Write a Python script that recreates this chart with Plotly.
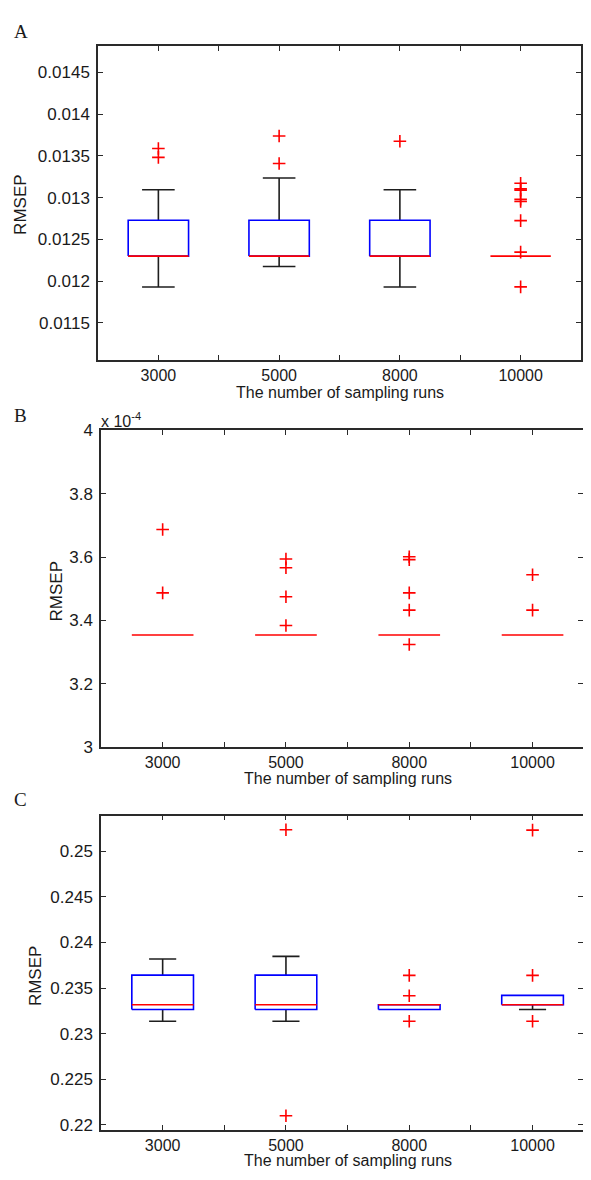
import plotly.graph_objects as go

# ---------------- data ----------------
categories = ["3000", "5000", "8000", "10000"]
positions = [1, 2, 3, 4]

# Panel A
a_q1 = [0.01230, 0.01230, 0.01230, 0.01230]
a_med = [0.01230, 0.01230, 0.01230, 0.01230]
a_q3 = [0.01273, 0.01273, 0.01273, 0.01230]
a_lo = [0.01193, 0.012175, 0.01193, None]
a_hi = [0.013094, 0.013235, 0.013094, None]
a_out = [
    [0.013588, 0.013482],
    [0.013738, 0.013408],
    [0.013675],
    [0.013173, 0.013105, 0.013090, 0.012980, 0.012955, 0.012725, 0.012348, 0.011932],
]

# Panel B
b_q1 = [3.3535e-4, 3.3535e-4, 3.3535e-4, 3.3535e-4]
b_med = [3.3535e-4, 3.3535e-4, 3.3535e-4, 3.3535e-4]
b_q3 = [3.3535e-4, 3.3535e-4, 3.3535e-4, 3.3535e-4]
b_lo = [None, None, None, None]
b_hi = [None, None, None, None]
b_out = [
    [3.6868e-4, 3.4868e-4],
    [3.5938e-4, 3.5659e-4, 3.4744e-4, 3.3836e-4],
    [3.6010e-4, 3.5917e-4, 3.4868e-4, 3.4322e-4, 3.3237e-4],
    [3.5439e-4, 3.4322e-4],
]

# Panel C
c_q1 = [0.23265, 0.23265, 0.23265, 0.23316]
c_med = [0.23316, 0.23316, 0.23316, 0.23316]
c_q3 = [0.23642, 0.23642, 0.23316, 0.23419]
c_lo = [0.23136, 0.23136, None, 0.23265]
c_hi = [0.23818, 0.23847, None, None]
c_out = [
    [],
    [0.25234, 0.22101],
    [0.23639, 0.23416, 0.23136],
    [0.25230, 0.23639, 0.23136],
]

a_ticks = [0.0115, 0.012, 0.0125, 0.013, 0.0135, 0.014, 0.0145]
a_ticktext = ["0.0115", "0.012", "0.0125", "0.013", "0.0135", "0.014", "0.0145"]
b_ticks = [3.0e-4, 3.2e-4, 3.4e-4, 3.6e-4, 3.8e-4, 4.0e-4]
b_ticktext = ["3", "3.2", "3.4", "3.6", "3.8", "4"]
c_ticks = [0.22, 0.225, 0.23, 0.235, 0.24, 0.245, 0.25]
c_ticktext = ["0.22", "0.225", "0.23", "0.235", "0.24", "0.245", "0.25"]
minor_xticks = [1.5, 2.5, 3.5]

x_title = "The number of sampling runs"
y_title = "RMSEP"

# ---------------- layout helpers ----------------
PAGE_OFF = 8              # default body margin of the page
W, H = 591 - 2 * PAGE_OFF, 1180 - 2 * PAGE_OFF


def fx(px):
    return (px - PAGE_OFF) / W


def fy(py):
    return 1 - (py - PAGE_OFF) / H


BLUE = "#0000ff"
RED = "#ff0000"
BLACK = "#1e1e1e"
AXC = "#2a2a2a"
FONT = "Liberation Sans"
TXT = "#1a1a1a"

fig = go.Figure()


def add_panel(n, q1, med, q3, lo, hi, out, capw):
    xa = "x" if n == 1 else f"x{n}"
    ya = "y" if n == 1 else f"y{n}"
    w = 0.25
    bx, by, wx, wy, mx, my, ox, oy = [], [], [], [], [], [], [], []
    for p, a, m, b, l, h, o in zip(positions, q1, med, q3, lo, hi, out):
        if b > a:
            bx += [p - w, p + w, p + w, p - w, p - w, None]
            by += [a, a, b, b, a, None]
        if h is not None:
            wx += [p, p, None, p - capw, p + capw, None]
            wy += [b, h, None, h, h, None]
        if l is not None:
            wx += [p, p, None, p - capw, p + capw, None]
            wy += [a, l, None, l, l, None]
        mx += [p - w, p + w, None]
        my += [m, m, None]
        ox += [p] * len(o)
        oy += list(o)
    common = dict(xaxis=xa, yaxis=ya, showlegend=False, hoverinfo="skip")
    fig.add_trace(go.Scatter(x=wx, y=wy, mode="lines",
                             line=dict(color=BLACK, width=1.6), **common))
    fig.add_trace(go.Scatter(x=bx, y=by, mode="lines",
                             line=dict(color=BLUE, width=1.6), **common))
    fig.add_trace(go.Scatter(x=mx, y=my, mode="lines",
                             line=dict(color=RED, width=1.6), **common))
    fig.add_trace(go.Scatter(x=ox, y=oy, mode="markers",
                             marker=dict(symbol="cross-thin", size=9,
                                         line=dict(color=RED, width=1.6)),
                             **common))


add_panel(1, a_q1, a_med, a_q3, a_lo, a_hi, a_out, 0.135)
add_panel(2, b_q1, b_med, b_q3, b_lo, b_hi, b_out, 0.12)
add_panel(3, c_q1, c_med, c_q3, c_lo, c_hi, c_out, 0.11)

tick_common = dict(ticks="inside", ticklen=5, tickwidth=1.3, tickcolor=AXC,
                   showgrid=False, zeroline=False)
yfont = dict(family=FONT, size=17, color=TXT)
xfont = dict(family=FONT, size=16, color=TXT)

RIGHT_EDGE = 591 - PAGE_OFF
panels = {
    1: dict(xd=[98, 581], yd=[37.7, 356.7], xr=[0.5, 4.5],
            yr=[0.011056, 0.014813], tv=a_ticks, tt=a_ticktext, cut=False),
    2: dict(xd=[101, RIGHT_EDGE], yd=[428.3, 750],
            xr=[0.5, 0.5 + (RIGHT_EDGE - 101) / 123.3],
            yr=[3.0e-4, 4.0e-4], tv=b_ticks, tt=b_ticktext, cut=True),
    3: dict(xd=[101, RIGHT_EDGE], yd=[820, 1139.3],
            xr=[0.5, 0.5 + (RIGHT_EDGE - 101) / 123.3],
            yr=[0.21946, 0.25388], tv=c_ticks, tt=c_ticktext, cut=True),
}

layout = dict(width=W, height=H, margin=dict(l=0, r=0, t=0, b=0),
              paper_bgcolor="white", plot_bgcolor="white")
for n, p in panels.items():
    xk = "xaxis" if n == 1 else f"xaxis{n}"
    yk = "yaxis" if n == 1 else f"yaxis{n}"
    ya = "y" if n == 1 else f"y{n}"
    xa = "x" if n == 1 else f"x{n}"
    xdom = [fx(p["xd"][0]), min(1.0, fx(p["xd"][1]))]
    ydom = [fy(p["yd"][1]), fy(p["yd"][0])]
    layout[xk] = dict(domain=xdom, range=p["xr"],
                      tickvals=positions, ticktext=categories, anchor=ya,
                      showline=True, linecolor=AXC, linewidth=1.5, mirror="ticks",
                      ticklabelstandoff=0, tickfont=xfont,
                      minor=dict(tickvals=minor_xticks, ticks="inside", ticklen=5,
                                 tickwidth=1.3, tickcolor=AXC, showgrid=False),
                      **tick_common)
    layout[yk] = dict(domain=ydom, range=p["yr"],
                      tickvals=p["tv"], ticktext=p["tt"], anchor=xa,
                      showline=True, linecolor=AXC, linewidth=1.5,
                      mirror=False if p["cut"] else "ticks",
                      ticklabelstandoff=3, tickfont=yfont, **tick_common)
    if p["cut"]:
        # right-hand ticks only: the right frame edge lies outside the picture
        k = n + 3
        layout[f"yaxis{k}"] = dict(overlaying=ya, side="right", anchor=xa,
                                   range=p["yr"], tickvals=p["tv"],
                                   showticklabels=False, showline=False,
                                   **tick_common)
        fig.add_trace(go.Scatter(x=[], y=[], xaxis=xa, yaxis=f"y{k}",
                                 showlegend=False, hoverinfo="skip"))

fig.update_layout(**layout)

ann = []
# x titles
for cx, cy in [(339.5, 390), (347.5, 782), (347.5, 1170)]:
    ann.append(dict(text=x_title, x=fx(cx), y=fy(cy), xref="paper", yref="paper",
                    showarrow=False, xanchor="center", yanchor="middle",
                    font=dict(family=FONT, size=16, color=TXT)))
# y titles
for cx, cy in [(21, 199), (56, 592), (35, 983)]:
    ann.append(dict(text=y_title, x=fx(cx), y=fy(cy), xref="paper", yref="paper",
                    showarrow=False, textangle=-90, xanchor="center", yanchor="middle",
                    font=dict(family=FONT, size=17, color=TXT)))
# panel letters
for t, cy in [("A", 23), ("B", 413), ("C", 803)]:
    ann.append(dict(text=t, x=fx(12), y=fy(cy), xref="paper", yref="paper",
                    showarrow=False, xanchor="left", yanchor="middle",
                    font=dict(family="Liberation Serif", size=19, color=TXT)))
# exponent
ann.append(dict(text="x 10<sup>-4</sup>", x=fx(99), y=fy(418), xref="paper", yref="paper",
                showarrow=False, xanchor="left", yanchor="middle",
                font=dict(family=FONT, size=16, color=TXT)))
fig.update_layout(annotations=ann)

fig.write_html("out.html")
